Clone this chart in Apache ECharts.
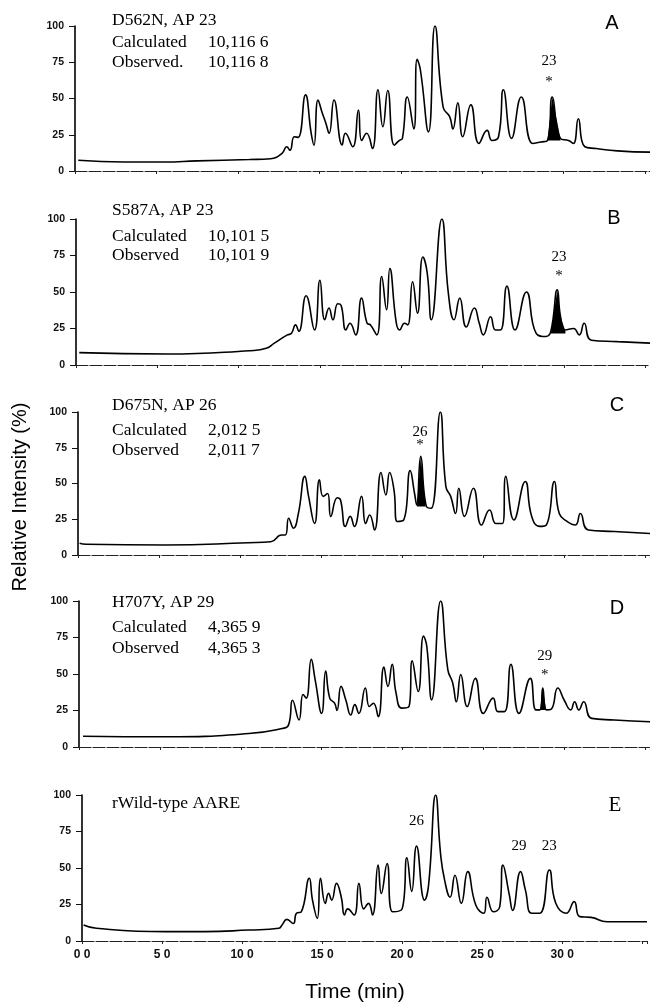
<!DOCTYPE html>
<html><head><meta charset="utf-8">
<script src="https://cdn.jsdelivr.net/npm/echarts@6/dist/echarts.min.js"></script>
<style>html,body{margin:0;padding:0;background:#fff}#c{width:650px;height:1003px}</style>
</head><body><div id="c"></div>
<script>
// ---- data ----
const xTickLabels = ['0 0','5 0','10 0','15 0','20 0','25 0','30 0'];
const yTickLabels = ['0','25','50','75','100'];
const panelLetters = ['A','B','C','D','E'];
const panelTitles = ['D562N, AP 23','S587A, AP 23','D675N, AP 26','H707Y, AP 29','rWild-type AARE'];
const calcValues = ['10,116 6','10,101 5','2,012 5','4,365 9'];
const obsLabels = ['Observed.','Observed','Observed','Observed'];
const obsValues = ['10,116 8','10,101 9','2,011 7','4,365 3'];

const traceA = [[0.2,7.4],[3.0,6.2],[5.5,6.2],[7.5,7.0],[10.7,7.9],[12.0,8.5],[12.7,12],[13.0,16.7],[13.2,14.3],[13.46,23.6],[13.7,23.2],[14.15,52.5],[14.5,26],[14.67,17.8],[14.92,49],[15.18,40],[15.4,33],[15.6,26],[15.9,49],[16.4,18],[16.6,26],[17.05,16.7],[17.4,42],[17.6,21],[17.9,26],[18.26,15.5],[18.6,56],[18.9,30.5],[19.2,55.5],[19.6,17.8],[19.9,21],[20.1,22.5],[20.4,51],[20.8,29],[21.0,77],[21.2,70],[21.7,27],[22.1,100],[22.6,44],[23.0,37.5],[23.2,29],[23.5,47],[23.8,23.6],[24.3,45.6],[24.8,19],[25.3,28],[25.6,21],[26.0,23.6],[26.3,56],[26.8,22.5],[27.4,51],[28.1,19],[28.6,20],[29.0,21],[29.3,51],[29.8,22.5],[30.3,21],[30.6,19],[30.9,36],[31.3,16.7],[32.0,15.5],[33.3,13.9],[35.3,13]];
const traceB = [[0.2,8.5],[5.6,7.5],[10.7,9.8],[11.7,11.4],[12.2,15],[13.0,20.6],[13.25,21.7],[13.5,27.5],[13.7,23],[14.15,47.4],[14.67,24],[15.0,58],[15.3,31],[15.56,39],[15.8,31],[16.1,42],[16.3,41],[16.6,24],[16.85,28.6],[17.2,20.6],[17.56,45.8],[17.9,28.6],[18.1,27.5],[18.5,20.6],[18.8,60.6],[19.1,37.8],[19.3,66],[19.7,28.6],[19.9,24],[20.2,28.6],[20.4,27.5],[20.7,57],[21.0,35.5],[21.33,74],[21.6,63],[21.85,31],[22.5,100],[22.9,49],[23.25,31],[23.6,45.8],[24.0,26],[24.5,39],[24.8,28.6],[25.05,20.6],[25.5,33],[25.8,24],[26.1,24],[26.5,54],[27.0,24],[27.7,50],[28.3,21.7],[28.9,19.5],[29.2,23],[29.6,51.5],[29.8,33],[30.1,24],[30.6,25],[30.95,20.6],[31.25,28.6],[31.7,17],[33.3,16],[35.3,15]];
const traceC = [[0.1,8.2],[0.5,7.5],[5.4,7],[10.5,8.6],[11.9,9.3],[12.56,14],[12.8,14],[13.0,25.7],[13.3,18.7],[13.6,29],[14.0,55],[14.23,41],[14.6,22],[14.9,52.6],[15.13,41],[15.4,43],[15.6,27],[16.0,40],[16.2,38.5],[16.5,20],[16.8,27],[17.05,20],[17.5,41],[17.75,22],[18.0,28],[18.3,17.5],[18.7,57.7],[19.0,42],[19.23,57.7],[19.5,45.5],[19.7,23.4],[20.1,24.5],[20.5,59],[20.77,43],[20.9,35],[21.15,69],[21.5,34],[21.8,32.7],[22.36,100],[22.7,48],[23.0,41],[23.3,29],[23.5,46.7],[23.85,27],[24.4,46.7],[24.9,21],[25.4,31.5],[25.8,22],[26.2,22],[26.4,55],[26.9,24.5],[27.6,51.4],[28.0,27],[28.5,20],[28.9,21],[29.4,51.4],[29.7,29],[30.2,23.4],[30.7,21],[31.0,29],[31.5,17.5],[33.1,16.4],[35.3,15]];
const traceD = [[0.25,7.4],[5.4,7],[10.5,9.2],[12.56,12.7],[12.95,15],[13.2,32],[13.6,18.5],[13.85,36],[14.05,33.5],[14.36,60],[14.6,46],[15.0,23],[15.25,52],[15.5,33.5],[15.8,30],[15.95,25],[16.2,41.5],[16.5,32],[16.8,22],[17.05,29],[17.3,23],[17.7,40.4],[17.95,27.7],[18.2,30],[18.5,20.8],[18.85,54.7],[19.1,41.5],[19.36,56.6],[19.6,37],[19.95,26.6],[20.4,27.7],[20.6,59],[20.97,38],[21.3,76],[21.5,69],[21.8,32.3],[22.36,100],[22.8,53],[23.1,44],[23.33,31],[23.6,49.6],[24.0,27.7],[24.5,47],[25.0,23],[25.6,33.5],[25.9,24.2],[26.3,24.2],[26.7,56.6],[27.2,23],[27.9,47],[28.25,25.4],[28.5,25.4],[28.67,40.4],[28.9,25.4],[29.2,26],[29.6,40.4],[30.0,32],[30.4,25.4],[30.64,31],[30.9,25.4],[31.2,31],[31.7,19.6],[33.1,18.5],[35.3,17.3]];
const traceE = [[0.1,11],[0.9,8.7],[5.2,6.4],[7.7,6.4],[10.4,7.5],[12.3,8.7],[12.5,11],[12.8,14.8],[13.2,12],[13.4,19],[13.7,20],[14.2,43],[14.4,28],[14.7,15.5],[14.9,43],[15.2,25.8],[15.4,32.6],[15.6,28],[15.9,39.5],[16.2,30],[16.4,17.8],[16.6,22],[17.0,17.8],[17.3,39.5],[17.6,22],[17.9,25.8],[18.15,17.8],[18.5,52],[18.7,32.6],[19.06,53],[19.4,20],[20.0,22],[20.3,57],[20.6,34],[20.9,65],[21.4,28],[21.65,38],[22.1,100],[22.4,60],[22.65,42],[23.0,30],[23.3,45],[23.7,25.8],[24.1,47.5],[24.6,24.7],[25.1,19],[25.3,30],[25.7,20],[26.1,23.5],[26.3,52],[26.7,31.5],[26.9,21],[27.4,47.5],[27.7,35],[28.1,19],[28.6,19],[29.2,48.6],[29.6,25.8],[30.25,19],[30.75,27],[31.1,16.7],[31.8,16.2],[32.8,13.2],[35.3,13.2]];
const traces = [traceA, traceB, traceC, traceD, traceE];

// filled (black) peaks and their base level
const fillA = [[29.0,21],[29.3,51],[29.8,22.5]];
const fillB = [[29.2,21.5],[29.6,51.5],[29.8,33],[30.1,23]];
const fillC = [[20.92,34],[21.15,69],[21.45,34]];
const fillD = [[28.5,25.4],[28.67,40.4],[28.88,25.4]];
const fills = [fillA, fillB, fillC, fillD, null];
const fillBase = [21, 21.5, 34, 25.4, null];

// peak annotations [time, value, text]
const annotA = [[29.1,76,'23'],[29.1,61,'*']];
const annotB = [[29.7,74,'23'],[29.7,61,'*']];
const annotC = [[21.1,86,'26'],[21.1,77,'*']];
const annotD = [[28.8,62,'29'],[28.8,49,'*']];
const annotE = [[20.9,82,'26'],[27.3,65,'29'],[29.2,65,'23']];
const annots = [annotA, annotB, annotC, annotD, annotE];

// ---- layout ----
const gridTop = [26, 219, 412, 601, 795];
const gridH = [145, 146, 143, 146, 146];
const gridLeft = [75, 76, 78, 79, 82];
const XMAX = 35.3;

const grids = [], xAxes = [], yAxes = [], series = [], graphics = [];
for (let i = 0; i < 5; i++) {
  grids.push({left: gridLeft[i], right: 0, top: gridTop[i], height: gridH[i]});
  xAxes.push({
    type: 'value', gridIndex: i, min: 0, max: XMAX, interval: 5,
    axisLine: {onZero: true, lineStyle: {color: '#222', width: 1.2, type: [12, 2]}},
    axisTick: {show: true, length: 3, lineStyle: {color: '#222'}},
    splitLine: {show: false},
    axisLabel: {
      show: i === 4, margin: 8, fontSize: 12, fontWeight: 'bold',
      fontFamily: 'Liberation Sans', color: '#111',
      formatter: v => { const k = Math.round(v / 5); return k < xTickLabels.length ? xTickLabels[k] : ''; }
    }
  });
  yAxes.push({
    type: 'value', gridIndex: i, min: 0, max: 100, interval: 25,
    axisLine: {show: true, lineStyle: {color: '#000', width: 1.6}},
    axisTick: {show: true, length: 6, lineStyle: {color: '#111'}},
    splitLine: {show: false},
    axisLabel: {
      margin: 11, fontSize: 10.5, fontWeight: 'bold', fontFamily: 'Liberation Sans', color: '#111',
      formatter: v => yTickLabels[Math.round(v / 25)]
    }
  });
  if (fills[i]) {
    series.push({
      type: 'line', xAxisIndex: i, yAxisIndex: i, data: fills[i], symbol: 'none',
      lineStyle: {width: 0}, areaStyle: {color: '#000', opacity: 1, origin: fillBase[i]},
      silent: true, z: 2
    });
  }
  series.push({
    type: 'line', xAxisIndex: i, yAxisIndex: i, data: traces[i], symbol: 'none',
    smooth: 0.5, lineStyle: {color: '#000', width: 1.6}, z: 3, silent: true
  });
  series.push({
    type: 'scatter', xAxisIndex: i, yAxisIndex: i, symbolSize: 0,
    itemStyle: {color: '#000', opacity: 1},
    data: annots[i].map(a => ({value: [a[0], a[1]], name: a[2]})),
    label: {show: true, position: 'inside', formatter: '{b}', color: '#000', opacity: 1,
            fontFamily: 'Liberation Serif', fontSize: 15},
    silent: true, z: 4
  });
}

// panel header texts
const titleY = [[20, 42, 62], [210, 236, 255], [405, 430, 450], [602, 627, 648], [803]];
const letterPos = [[612, 23], [614, 218], [617, 405], [617, 608], [615, 805]];
const serif = '17.5px "Liberation Serif"';
for (let i = 0; i < 5; i++) {
  graphics.push({type: 'text', x: 112, y: titleY[i][0],
    style: {text: panelTitles[i], font: serif, fill: '#000', textVerticalAlign: 'middle'}});
  if (i < 4) {
    graphics.push({type: 'text', x: 112, y: titleY[i][1],
      style: {text: 'Calculated', font: serif, fill: '#000', textVerticalAlign: 'middle'}});
    graphics.push({type: 'text', x: 208, y: titleY[i][1],
      style: {text: calcValues[i], font: serif, fill: '#000', textVerticalAlign: 'middle'}});
    graphics.push({type: 'text', x: 112, y: titleY[i][2],
      style: {text: obsLabels[i], font: serif, fill: '#000', textVerticalAlign: 'middle'}});
    graphics.push({type: 'text', x: 208, y: titleY[i][2],
      style: {text: obsValues[i], font: serif, fill: '#000', textVerticalAlign: 'middle'}});
  }
  graphics.push({type: 'text', x: letterPos[i][0], y: letterPos[i][1],
    style: {text: panelLetters[i], font: i < 4 ? '20px "Liberation Sans"' : '21px "Liberation Serif"',
      fill: '#000', textAlign: 'center', textVerticalAlign: 'middle'}});
}
graphics.push({type: 'text', x: 20, y: 497, rotation: Math.PI / 2,
  style: {text: 'Relative Intensity (%)', font: '20px "Liberation Sans"', fill: '#000',
    textAlign: 'center', textVerticalAlign: 'middle'}});
graphics.push({type: 'text', x: 355, y: 992,
  style: {text: 'Time (min)', font: '21px "Liberation Sans"', fill: '#000',
    textAlign: 'center', textVerticalAlign: 'middle'}});

const chart = echarts.init(document.getElementById('c'), null, {renderer: 'canvas'});
chart.setOption({
  animation: false, backgroundColor: '#fff',
  grid: grids, xAxis: xAxes, yAxis: yAxes, series: series, graphic: graphics
});
</script></body></html>
